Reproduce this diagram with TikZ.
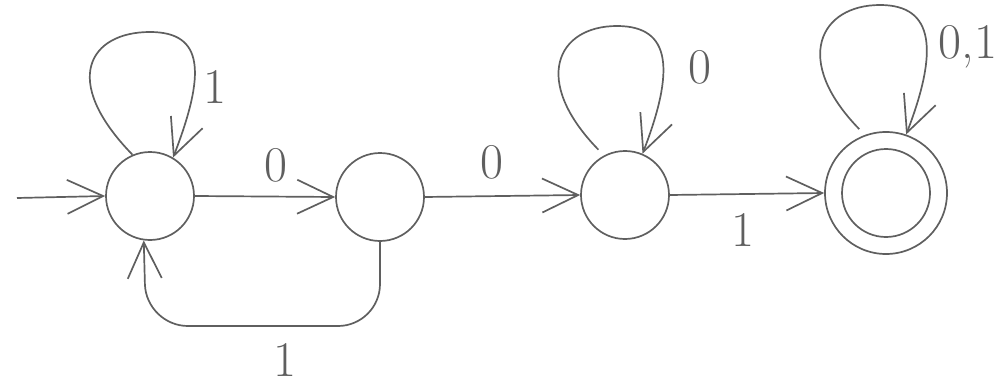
\documentclass[tikz,border=0pt]{standalone}
\usetikzlibrary{arrows.meta,calc}
\definecolor{ink}{RGB}{95,95,95}
\begin{document}
\begin{tikzpicture}[x=1pt,y=-1pt,
  every path/.style={draw=ink, line width=1.7pt},
  st/.style={circle, draw=ink, line width=1.7pt, minimum size=88pt, inner sep=0pt},
  acc/.style={circle, draw=ink, line width=1.7pt, minimum size=122pt, inner sep=0pt},
  arr/.style={-{Straight Barb[length=36pt,width=34pt]}},
  lbl/.style={font=\fontsize{50}{50}\selectfont, text=ink, inner sep=0pt, draw=none}]
\useasboundingbox[draw=none] (0,0) rectangle (1000,385);

\node[st] (s1) at (150,196) {};
\node[st] (s2) at (380,197) {};
\node[st] (s3) at (625,195) {};
\node[acc] (s4) at (886,193) {};
\draw (s4.center) circle (44);

\coordinate (init) at (17,198);
\coordinate (t1) at (150,32);
\coordinate (t3) at (617,26);
\coordinate (t4) at (880,5);
\coordinate (c1) at (146,326);

% initial
\draw[arr] (init) -- (s1.west);
% 1 -> 2
\draw[arr] (s1.east) -- (s2.west);
% 2 -> 3
\draw[arr] (s2.east) -- (s3.west);
% 3 -> 4
\draw[arr] (s3.east) -- (s4.west);
% 2 -> 1 back
\draw[arr, rounded corners=42pt] (s2.south) |- (c1) -- (s1.262);

% self loops
\draw[arr] (s1.113) .. controls +(-73,-75) and +(-60,0) .. (t1)
  .. controls +(55,0) and +(32,-83) .. (s1.59);
\draw[arr, shorten <=8pt] (s3.118) .. controls +(-73,-75) and +(-60,0) .. (t3)
  .. controls +(55,0) and +(32,-83) .. (s3.67);
\draw[arr, shorten <=8pt] (s4.110) .. controls +(-73,-75) and +(-60,0) .. (t4)
  .. controls +(55,0) and +(32,-83) .. (s4.71);

% labels
\node[lbl] (l1) at (215,87) {1};
\node[lbl] (l2) at (276,165) {0};
\node[lbl] (l3) at (492,162) {0};
\node[lbl] (l4) at (700,67) {0};
\node[lbl] (l5) at (743,230) {1};
\node[lbl] (l6) at (968,47) {0,1};
\node[lbl] (l7) at (285,360) {1};
\end{tikzpicture}
\end{document}
